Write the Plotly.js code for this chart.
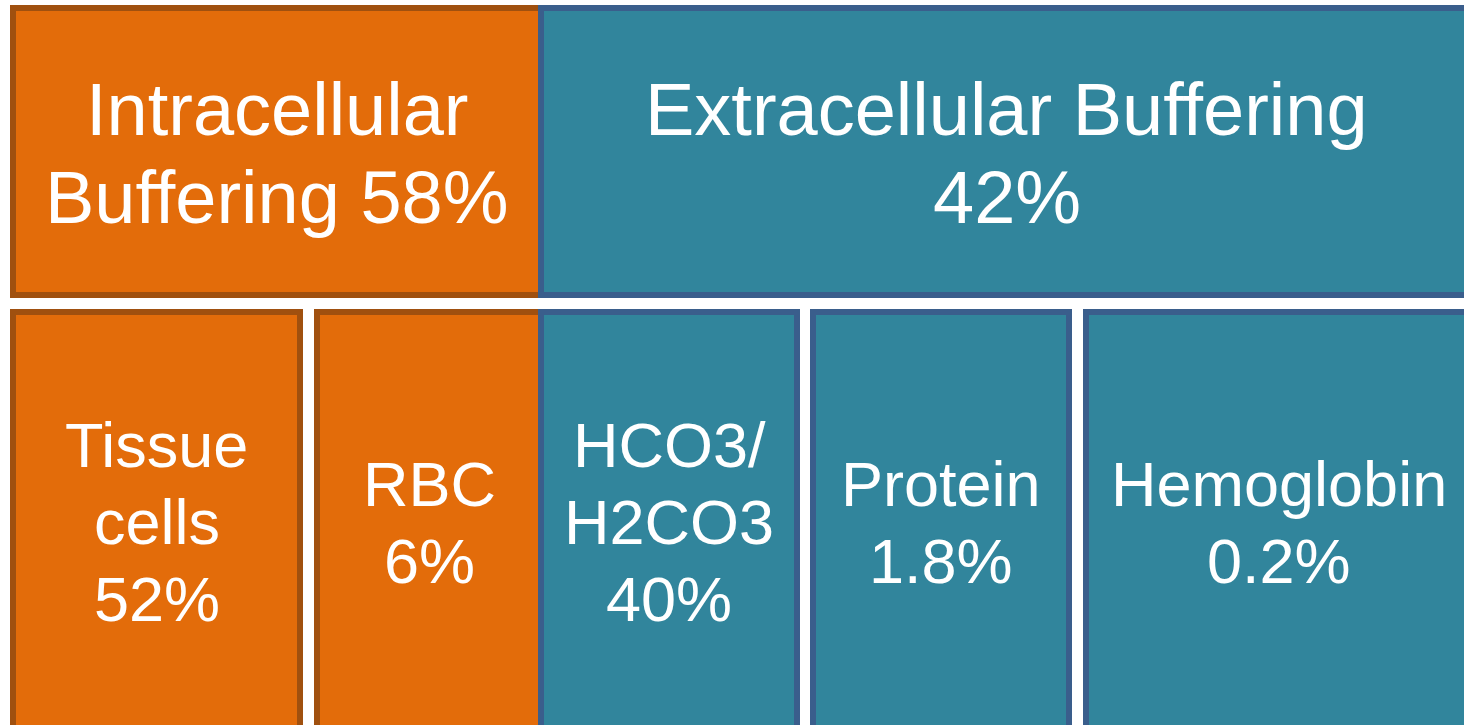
<!DOCTYPE html>
<html>
<head>
<meta charset="utf-8">
<script src="https://cdn.plot.ly/plotly-3.0.1.min.js"></script>
<style>
  html, body { margin: 0; padding: 0; background: #ffffff; }
  #chart { width: 1464px; height: 725px; }
</style>
</head>
<body>
<div id="chart"></div>
<script>
// Share of acid buffering by compartment (%)
const groups = ['Intracellular', 'Extracellular'];
const groupLabels = ['Intracellular\nBuffering ', 'Extracellular Buffering\n'];
const groupShares = [58, 42];

const buffers = ['Tissue cells', 'RBC', 'HCO3/H2CO3', 'Protein', 'Hemoglobin'];
const bufferLabels = ['Tissue\ncells\n', 'RBC\n', 'HCO3/\nH2CO3\n', 'Protein\n', 'Hemoglobin\n'];
const bufferShares = [52, 6, 40, 1.8, 0.2];
const bufferGroup = [0, 0, 1, 1, 1];

// Diagram geometry (axis units = screen pixels)
const W = 1464, H = 725;
const topRow = [8, 295];
const bottomRow = [312, 732];
const groupCols = [[13, 541], [541, 1472]];
const bufferCols = [[13, 300], [317, 541], [541, 797], [813, 1069], [1086, 1472]];

const fills = ['#E36C0A', '#31859C'];
const edges = ['#A0500F', '#3A5E8C'];
const font = 'Liberation Sans, Arial, sans-serif';
const topFont = 74, topLine = 88;
const bottomFont = 63, bottomLine = 77;

const traces = [];
const annotations = [];

function addLines(text, cx, cy, size, step) {
  const lines = text.split('\n');
  const n = lines.length;
  lines.forEach((line, i) => {
    annotations.push({
      x: cx, y: cy + (i - (n - 1) / 2) * step,
      xref: 'x', yref: 'y',
      text: line, showarrow: false,
      xanchor: 'center', yanchor: 'middle',
      font: { family: font, size: size, color: '#ffffff' }
    });
  });
}

groups.forEach((g, gi) => {
  const xs = [], ws = [], bases = [], hs = [];
  const push = (col, row) => {
    xs.push((col[0] + col[1]) / 2);
    ws.push(col[1] - col[0]);
    bases.push(row[0]);
    hs.push(row[1] - row[0]);
  };
  push(groupCols[gi], topRow);
  buffers.forEach((b, bi) => {
    if (bufferGroup[bi] === gi) push(bufferCols[bi], bottomRow);
  });
  traces.push({
    type: 'bar', orientation: 'v',
    x: xs, y: hs, base: bases, width: ws,
    marker: { color: fills[gi], line: { color: edges[gi], width: 6 } },
    hoverinfo: 'skip', showlegend: false
  });

  const c = groupCols[gi];
  addLines(groupLabels[gi] + groupShares[gi] + '%',
           (c[0] + c[1]) / 2, (topRow[0] + topRow[1]) / 2 + 1.5, topFont, topLine);
});

buffers.forEach((b, bi) => {
  const c = bufferCols[bi];
  addLines(bufferLabels[bi] + bufferShares[bi] + '%',
           (c[0] + c[1]) / 2, (bottomRow[0] + bottomRow[1]) / 2, bottomFont, bottomLine);
});

const layout = {
  width: W, height: H,
  margin: { l: 0, r: 0, t: 0, b: 0, pad: 0 },
  paper_bgcolor: '#ffffff', plot_bgcolor: '#ffffff',
  barmode: 'overlay',
  xaxis: { range: [0, W], visible: false, fixedrange: true },
  yaxis: { range: [H, 0], visible: false, fixedrange: true },
  annotations: annotations,
  showlegend: false
};

Plotly.newPlot('chart', traces, layout, { staticPlot: true, displayModeBar: false });
</script>
</body>
</html>
